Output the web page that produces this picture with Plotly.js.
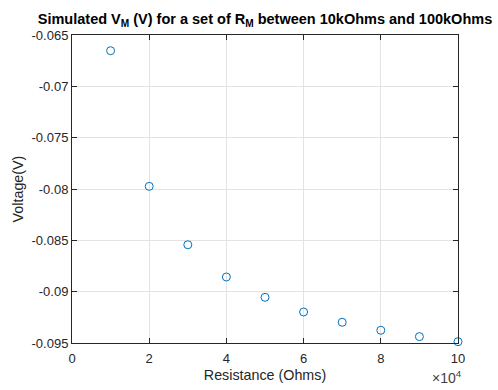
<!DOCTYPE html>
<html>
<head>
<meta charset="utf-8">
<script src="https://cdn.plot.ly/plotly-3.0.1.min.js"></script>
<style>html,body{margin:0;padding:0;background:#fff;}#chart{width:498px;height:390px;}</style>
</head>
<body>
<div id="chart"></div>
<script>
const resistance = [10000, 20000, 30000, 40000, 50000, 60000, 70000, 80000, 90000, 100000];
const voltage = [-0.06653, -0.07974, -0.08543, -0.08857, -0.09055, -0.09198, -0.09298, -0.09376, -0.09438, -0.09487];
const xTickVals = [0, 20000, 40000, 60000, 80000, 100000];
const xTickText = ['0', '2', '4', '6', '8', '10'];
const yTickVals = [-0.095, -0.09, -0.085, -0.08, -0.075, -0.07, -0.065];
const yTickText = ['-0.095', '-0.09', '-0.085', '-0.08', '-0.075', '-0.07', '-0.065'];

const trace = {
  x: resistance, y: voltage, type: 'scatter', mode: 'markers', cliponaxis: false,
  marker: {symbol: 'circle-open', size: 8, color: '#0072BD', line: {width: 1, color: '#0072BD'}},
  hoverinfo: 'none'
};
const fontFam = 'Arial, "Liberation Sans", Helvetica, sans-serif';
const layout = {
  width: 498, height: 390,
  margin: {l: 72, r: 40, t: 35, b: 47, pad: 0},
  paper_bgcolor: '#ffffff', plot_bgcolor: '#ffffff',
  font: {family: fontFam, size: 13, color: '#262626'},
  showlegend: false,
  title: {
    text: 'Simulated V<sub>M</sub> (V) for a set of R<sub>M</sub> between 10kOhms and 100kOhms',
    font: {family: fontFam, size: 14.5, color: '#000000', weight: 'bold'},
    x: 0.5, xref: 'paper', xanchor: 'center', y: 0.951, yref: 'container', yanchor: 'middle'
  },
  xaxis: {
    range: [0, 100000], tickvals: xTickVals, ticktext: xTickText,
    showgrid: true, gridcolor: '#e3e3e3', gridwidth: 1, zeroline: false,
    showline: true, linecolor: '#262626', linewidth: 1, mirror: 'allticks',
    ticks: 'inside', ticklen: 5, tickcolor: '#262626', ticklabelstandoff: 3,
    tickfont: {family: fontFam, size: 13, color: '#262626'},
    title: {text: 'Resistance (Ohms)', font: {family: fontFam, size: 14.3, color: '#262626'}, standoff: 5},
    automargin: false, fixedrange: true
  },
  yaxis: {
    range: [-0.095, -0.065], tickvals: yTickVals, ticktext: yTickText,
    showgrid: true, gridcolor: '#e3e3e3', gridwidth: 1, zeroline: false,
    showline: true, linecolor: '#262626', linewidth: 1, mirror: 'allticks',
    ticks: 'inside', ticklen: 5, tickcolor: '#262626',
    tickfont: {family: fontFam, size: 13, color: '#262626'},
    title: {text: 'Voltage(V)', font: {family: fontFam, size: 14.3, color: '#262626'}, standoff: 4},
    automargin: false, fixedrange: true
  },
  annotations: [{
    text: '×10<sup>4</sup>', xref: 'paper', yref: 'paper', x: 1.015, y: -0.146,
    xanchor: 'right', yanchor: 'bottom', showarrow: false,
    font: {family: fontFam, size: 14, color: '#404040'}
  }]
};
Plotly.newPlot('chart', [trace], layout, {displayModeBar: false, staticPlot: true});
</script>
</body>
</html>
